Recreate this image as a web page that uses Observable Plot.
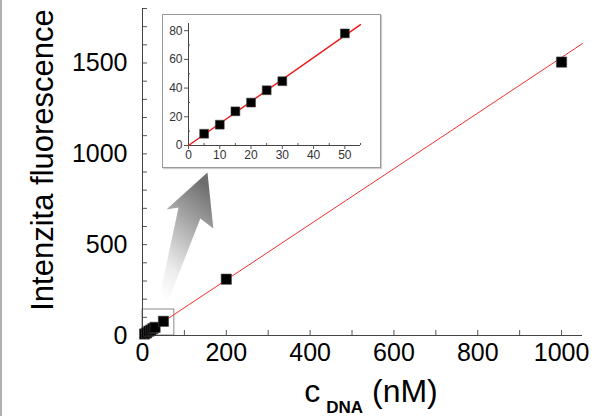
<!DOCTYPE html>
<html>
<head>
<meta charset="utf-8">
<script src="https://cdn.jsdelivr.net/npm/d3@7"></script>
<script src="https://cdn.jsdelivr.net/npm/@observablehq/plot@0.6"></script>
<style>
  html, body { margin: 0; padding: 0; background: #fff; }
  #wrap { position: relative; width: 608px; height: 416px; overflow: hidden; font-family: "Liberation Sans", Arial, sans-serif; }
  #edge { position: absolute; left: 0; top: 0; width: 2px; height: 416px; background: #b0b0b0; }
  #inset { position: absolute; left: 162px; top: 14px; border: 1px solid #9a9a9a; background: #fff; box-shadow: 1px 1px 1px #cfcfcf; line-height: 0; }
</style>
</head>
<body>
<div id="wrap"><div id="edge"></div><div id="main"></div><div id="inset"></div></div>
<script>
// ---- data ----
const concentration = [5, 10, 15, 20, 25, 30, 50, 200, 1000];          // c_DNA (nM)
const fluorescence  = [8.2, 14.5, 23.8, 29.9, 38.5, 44.8, 78.1, 310, 1505]; // intensity
const insetCount = 7; // first 7 points shown in the inset

const fitX = [0, 1050];        // linear fit, main chart
const fitY = [0, 1607];
const insetFitX = [0, 55];     // linear fit, inset
const insetFitY = [0, 84.2];

const mainXDomain = [0, 1050];
const mainYDomain = [0, 1800];
const mainXMajor = [0, 200, 400, 600, 800, 1000];
const mainXMinor = [100, 300, 500, 700, 900];
const mainYMajor = [0, 500, 1000, 1500];
const mainYMinor = [100, 200, 300, 400, 600, 700, 800, 900, 1100, 1200, 1300, 1400, 1600, 1700, 1800];

const insetXDomain = [0, 55];
const insetYDomain = [0, 85];
const insetXMajor = [0, 10, 20, 30, 40, 50];
const insetXMinor = [5, 15, 25, 35, 45, 55];
const insetYMajor = [0, 20, 40, 60, 80];
const insetYMinor = [10, 30, 50, 70];

const zoomBox = [{x1: 0, x2: 76, y1: 0, y2: 143}];   // region magnified by the inset
// callout arrow outline in main-chart data units
const arrowX = [36, 86, 57, 155, 169, 138, 57];
const arrowY = [165, 705, 694, 897, 589, 644, 165];

// ---- build tables ----
const points = concentration.map((c, i) => ({c, f: fluorescence[i]}));
const insetPoints = points.slice(0, insetCount);
const fitLine = fitX.map((x, i) => ({x, y: fitY[i]}));
const insetFit = insetFitX.map((x, i) => ({x, y: insetFitY[i]}));
const arrow = arrowX.map((x, i) => ({x, y: arrowY[i]}));
const plain = d3.format("d");

const W = 608, H = 416;
const mL = 142, mR = 26, mT = 8, mB = 81;
const frameW = W - mL - mR, frameH = H - mT - mB;
const tick = 5;

const main = Plot.plot({
  width: W, height: H,
  marginLeft: mL, marginRight: mR, marginTop: mT, marginBottom: mB,
  x: {domain: mainXDomain},
  y: {domain: mainYDomain},
  style: {fontFamily: "Liberation Sans, Arial, sans-serif", fontSize: "25px", color: "#000", background: "transparent", overflow: "visible"},
  marks: [
    Plot.line(arrow, {x: "x", y: "y", fill: "url(#arrowGrad)", stroke: "none", curve: "linear-closed"}),
    Plot.rect(zoomBox, {x1: "x1", x2: "x2", y1: "y1", y2: "y2", fill: "none", stroke: "#8a8a8a", strokeWidth: 1}),
    Plot.tickX(mainXMajor.concat(mainXMinor), {x: d => d, insetTop: frameH - tick, stroke: "#555", strokeWidth: 1}),
    Plot.tickY(mainYMajor.concat(mainYMinor), {y: d => d, insetRight: frameW - tick, stroke: "#555", strokeWidth: 1}),
    Plot.ruleX([0], {stroke: "#444", strokeWidth: 1}),
    Plot.ruleY([0], {stroke: "#444", strokeWidth: 1}),
    Plot.axisX({ticks: mainXMajor, tickFormat: plain, tickSize: 0, tickPadding: 8, label: null, fontSize: 25, fill: "#000"}),
    Plot.axisY({ticks: mainYMajor, tickFormat: plain, tickSize: 0, tickPadding: 15, label: null, fontSize: 25, fill: "#000"}),
    Plot.line(fitLine, {x: "x", y: "y", stroke: "#f03030", strokeWidth: 1}),
    Plot.dot(points, {x: "c", y: "f", symbol: "square", r: 5.8, fill: "#000", stroke: "#444", strokeWidth: 0.6})
  ]
});

// gradient for the callout arrow
const svgM = d3.select(main);
const defs = svgM.insert("defs", ":first-child");
const grad = defs.append("linearGradient").attr("id", "arrowGrad")
  .attr("x1", 0.25).attr("y1", 1).attr("x2", 0.6).attr("y2", 0);
grad.append("stop").attr("offset", 0).attr("stop-color", "#ffffff");
grad.append("stop").attr("offset", 0.25).attr("stop-color", "#ececec");
grad.append("stop").attr("offset", 1).attr("stop-color", "#6e6e6e");

// axis titles
svgM.append("text")
  .attr("transform", `translate(53,${mT + 152}) rotate(-90)`)
  .attr("text-anchor", "middle")
  .attr("font-size", 31)
  .attr("fill", "#000")
  .text("Intenzita fluorescence");

const xt = svgM.append("text")
  .attr("x", mL + frameW / 2 + 9)
  .attr("y", H - 14)
  .attr("text-anchor", "middle")
  .attr("font-size", 32)
  .attr("fill", "#000");
xt.append("tspan").text("c");
xt.append("tspan").attr("dx", 6).attr("dy", 11).attr("font-size", 17).attr("font-weight", "bold").text("DNA");
xt.append("tspan").attr("dy", -11).text(" (nM)");

document.getElementById("main").appendChild(main);

// ---- inset ----
const iW = 217, iH = 152;
const iL = 25, iR = 20, iT = 8, iB = 22;
const iFrameW = iW - iL - iR, iFrameH = iH - iT - iB;

const inset = Plot.plot({
  width: iW, height: iH,
  marginLeft: iL, marginRight: iR, marginTop: iT, marginBottom: iB,
  x: {domain: insetXDomain},
  y: {domain: insetYDomain},
  style: {fontFamily: "Liberation Sans, Arial, sans-serif", fontSize: "12px", color: "#333", background: "#fff", overflow: "visible"},
  marks: [
    Plot.tickX(insetXMinor, {x: d => d, insetTop: iFrameH - 2, stroke: "#555"}),
    Plot.tickY(insetYMinor, {y: d => d, insetRight: iFrameW - 2, stroke: "#555"}),
    Plot.ruleX([0], {stroke: "#444"}),
    Plot.ruleY([0], {stroke: "#444"}),
    Plot.axisX({ticks: insetXMajor, tickSize: 4, tickPadding: 1, label: null, fontSize: 12, fill: "#333", stroke: "#555"}),
    Plot.axisY({ticks: insetYMajor, tickSize: 4, tickPadding: 2, label: null, fontSize: 12, fill: "#333", stroke: "#555"}),
    Plot.line(insetFit, {x: "x", y: "y", stroke: "#f01818", strokeWidth: 1.4}),
    Plot.dot(insetPoints, {x: "c", y: "f", symbol: "square", r: 5, fill: "#000", stroke: "#444", strokeWidth: 0.6})
  ]
});
document.getElementById("inset").appendChild(inset);
</script>
</body>
</html>
